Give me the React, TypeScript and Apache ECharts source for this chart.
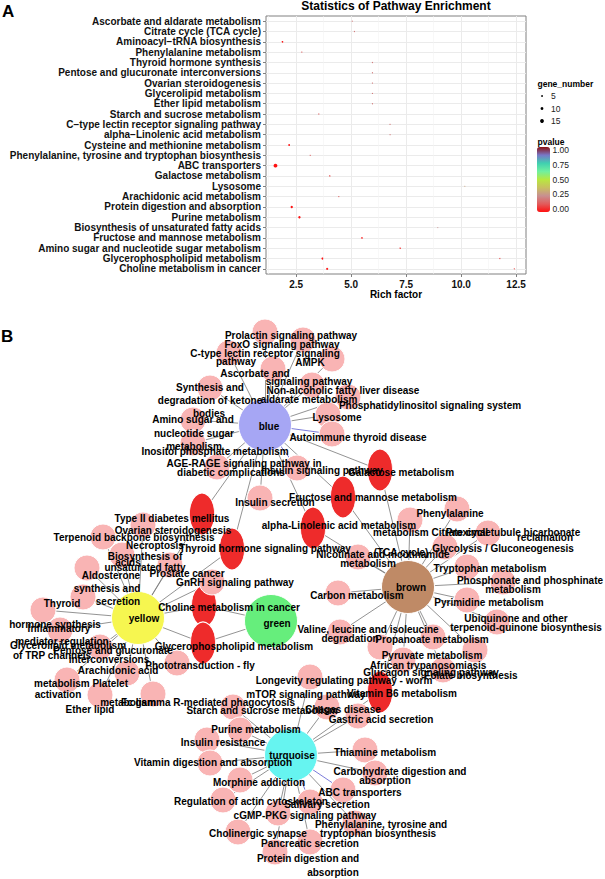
import React, { useEffect, useRef } from 'react';
import * as echarts from 'echarts';

// ---------------- Panel A data ----------------
const pathways = [
  'Ascorbate and aldarate metabolism',
  'Citrate cycle (TCA cycle)',
  'Aminoacyl\u2212tRNA biosynthesis',
  'Phenylalanine metabolism',
  'Thyroid hormone synthesis',
  'Pentose and glucuronate interconversions',
  'Ovarian steroidogenesis',
  'Glycerolipid metabolism',
  'Ether lipid metabolism',
  'Starch and sucrose metabolism',
  'C\u2212type lectin receptor signaling pathway',
  'alpha\u2212Linolenic acid metabolism',
  'Cysteine and methionine metabolism',
  'Phenylalanine, tyrosine and tryptophan biosynthesis',
  'ABC transporters',
  'Galactose metabolism',
  'Lysosome',
  'Arachidonic acid metabolism',
  'Protein digestion and absorption',
  'Purine metabolism',
  'Biosynthesis of unsaturated fatty acids',
  'Fructose and mannose metabolism',
  'Amino sugar and nucleotide sugar metabolism',
  'Glycerophospholipid metabolism',
  'Choline metabolism in cancer',
];
const pointPathway = [0, 1, 2, 3, 4, 5, 6, 7, 8, 9, 10, 11, 12, 13, 14, 15, 16, 17, 18, 19, 20, 21, 22, 23, 23, 24, 24];
const richFactor = [5.05, 5.15, 1.88, 2.76, 5.97, 5.97, 5.97, 5.97, 5.97, 3.53, 6.77, 6.77, 2.18, 3.14, 1.56, 4.03, 10.17, 4.44, 2.3, 2.65, 8.94, 5.49, 7.23, 3.7, 11.76, 3.91, 12.42];
const geneNumber = [2, 2, 4, 2, 2, 2, 2, 2, 2, 2, 2, 2, 5, 2, 15, 3, 1, 2, 8, 8, 1, 4, 3, 7, 2, 7, 2];
const pValue = [0.2, 0.2, 0.02, 0.15, 0.2, 0.2, 0.2, 0.2, 0.2, 0.15, 0.2, 0.2, 0.01, 0.15, 0.001, 0.1, 0.3, 0.15, 0.005, 0.005, 0.25, 0.02, 0.05, 0.01, 0.1, 0.01, 0.1];
const richTicks = [2.5, 5, 7.5, 10, 12.5];
const richMinorTicks = [1.25, 3.75, 6.25, 8.75, 11.25];
const geneLegend = [5, 10, 15];
const pvalueTicks = [1.0, 0.75, 0.5, 0.25, 0.0];
const pvalueColors = ['#ff1010', '#e25c5c', '#c89090', '#c8c060', '#b8e840', '#70f0a0', '#40d0b0', '#7878c8', '#8b1010'];

// ---------------- Panel B data (network layout coordinates) ----------------
const hubNames = ['blue', 'yellow', 'green', 'brown', 'turquoise'];
const hubX = [265, 138, 271, 408, 291];
const hubY = [425, 618, 621, 587, 755];
const hubColors = ['#a6a6f4', '#f6f650', '#66ee7c', '#bf8a66', '#66f4f0'];

// pink module members: [x, y, hub index]
const pinkNodes: number[][] = [
  [265, 332, 0], [303, 340, 0], [229, 353, 0], [332, 359, 0], [273, 369, 0], [312, 385, 0], [210, 388, 0], [348, 397, 0],
  [328, 415, 0], [332, 434, 0], [193, 420, 0], [193, 443, 0], [217, 467, 0], [297, 468, 0], [260, 498, 0],
  [143, 525, 1], [103, 537, 1], [122, 555, 1], [170, 565, 1], [87, 568, 1], [83, 597, 1], [212, 582, 1], [43, 610, 1],
  [60, 630, 1], [100, 647, 1], [177, 663, 1], [127, 673, 1], [67, 680, 1], [100, 695, 1], [153, 694, 1],
  [457, 509, 3], [410, 520, 3], [488, 533, 3], [445, 547, 3], [358, 557, 3], [467, 567, 3], [503, 582, 3], [338, 593, 3],
  [467, 600, 3], [497, 622, 3], [340, 632, 3], [433, 637, 3], [380, 647, 3], [475, 650, 3], [403, 660, 3], [443, 670, 3],
  [310, 677, 4], [233, 707, 4], [327, 707, 4], [358, 716, 4], [240, 730, 4], [207, 740, 4], [365, 750, 4], [210, 763, 4],
  [375, 773, 4], [240, 780, 4], [343, 790, 4], [223, 800, 4], [310, 802, 4], [278, 813, 4], [355, 823, 4], [238, 832, 4],
  [310, 842, 4], [275, 852, 4],
];
const blueEdgeNodes = [9, 13, 56, 58];
// shared (red) pathways: [x, y, hub A, hub B]
const redNodes: number[][] = [
  [380, 470, 0, 3], [343, 497, 0, 3], [313, 528, 0, 3], [202, 514, 0, 1], [232, 549, 0, 1],
  [204, 606, 1, 2], [203, 643, 1, 2], [380, 692, 3, 4],
];

// network labels: [text, x, y]
const netLabels: [string, number, number][] = [
  ['Prolactin signaling pathway', 291, 335], ['FoxO signaling pathway', 282, 344],
  ['C-type lectin receptor signaling', 265, 353], ['pathway', 236, 361], ['AMPK', 310, 362],
  ['Ascorbate and', 255, 373], ['signaling pathway', 309, 381], ['Synthesis and', 210, 387],
  ['Non-alcoholic fatty liver disease', 343, 390], ['aldarate metabolism', 309, 399],
  ['degradation of ketone', 210, 400], ['Phosphatidylinositol signaling system', 430, 405],
  ['bodies', 209, 413], ['Lysosome', 337, 417], ['Amino sugar and', 193, 419], ['blue', 269, 426],
  ['nucleotide sugar', 194, 433], ['Autoimmune thyroid disease', 358, 437], ['metabolism', 194, 446],
  ['Inositol phosphate metabolism', 215, 451], ['AGE-RAGE signaling pathway in', 244, 463],
  ['Insulin signaling pathway', 322, 470], ['Galactose metabolism', 401, 472], ['diabetic complications', 231, 472],
  ['Fructose and mannose metabolism', 373, 497], ['Insulin secretion', 275, 502], ['Phenylalanine', 450, 513],
  ['Type II diabetes mellitus', 172, 518], ['alpha-Linolenic acid metabolism', 339, 525],
  ['Ovarian steroidogenesis', 173, 530], ['metabolism Citrate cycle', 432, 532],
  ['Proximal tubule bicarbonate', 513, 532], ['reclamation', 545, 537],
  ['Terpenoid backbone biosynthesis', 134, 537], ['Necroptosis', 155, 545],
  ['Glycolysis / Gluconeogenesis', 503, 548], ['Thyroid hormone signaling pathway', 265, 548],
  ['(TCA cycle)', 401, 552], ['Nicotinate and nicotinamide', 383, 554], ['Biosynthesis of', 145, 556],
  ['acids', 128, 562], ['metabolism', 368, 563], ['unsaturated fatty', 145, 567],
  ['Tryptophan metabolism', 490, 568], ['Prostate cancer', 187, 573], ['Aldosterone', 111, 575],
  ['Phosphonate and phosphinate', 530, 580], ['GnRH signaling pathway', 235, 582], ['brown', 411, 587],
  ['synthesis and', 107, 588], ['metabolism', 513, 589], ['Carbon metabolism', 357, 595],
  ['secretion', 118, 601], ['Pyrimidine metabolism', 489, 602], ['Thyroid', 62, 603],
  ['Choline metabolism in cancer', 229, 607], ['yellow', 144, 618], ['Ubiquinone and other', 516, 618],
  ['green', 277, 623], ['hormone synthesis', 55, 624], ['terpenoid-quinone biosynthesis', 526, 627],
  ['Inflammatory', 59, 628], ['Valine, leucine and isoleucine', 368, 629], ['degradation', 350, 638],
  ['Propanoate metabolism', 432, 639], ['mediator regulation', 62, 641],
  ['Glycerolipid metabolism', 68, 645], ['Glycerophospholipid metabolism', 234, 646],
  ['Pentose and glucuronate', 113, 650], ['of TRP channels', 52, 655], ['Pyruvate metabolism', 432, 655],
  ['interconversions', 109, 659], ['Phototransduction - fly', 200, 665], ['African trypanosomiasis', 428, 665],
  ['Arachidonic acid', 118, 670], ['Glucagon signaling pathway', 431, 672], ['Folate biosynthesis', 471, 675],
  ['Longevity regulating pathway - worm', 344, 680], ['metabolism Platelet', 81, 683],
  ['Vitamin B6 metabolism', 402, 693], ['mTOR signaling pathway', 306, 694], ['activation', 58, 694],
  ['metabolism', 128, 702], ['Fc gamma R-mediated phagocytosis', 208, 702], ['Ether lipid', 90, 709],
  ['Chagas disease', 343, 709], ['Starch and sucrose metabolism', 262, 710], ['Gastric acid secretion', 381, 719],
  ['Purine metabolism', 256, 729], ['Insulin resistance', 223, 742], ['Thiamine metabolism', 385, 752],
  ['turquoise', 292, 755], ['Vitamin digestion and absorption', 213, 762], ['Carbohydrate digestion and', 400, 771],
  ['absorption', 385, 780], ['Morphine addiction', 259, 782], ['ABC transporters', 360, 792],
  ['Regulation of actin cytoskeleton', 251, 801], ['Salivary secretion', 327, 804],
  ['cGMP-PKG signaling pathway', 305, 815], ['Phenylalanine, tyrosine and', 381, 824],
  ['tryptophan biosynthesis', 378, 833], ['Cholinergic synapse', 258, 833], ['Pancreatic secretion', 310, 843],
  ['Protein digestion and', 308, 858], ['absorption', 333, 872],
];

const FONT = "'Liberation Sans', Arial, sans-serif";
const geneSize = (g: number) => 0.8 + g * 0.2;

export default function App() {
  const ref = useRef<HTMLDivElement>(null);
  useEffect(() => {
    document.body.style.margin = '0';
    const chart = echarts.init(ref.current!, null, { renderer: 'svg' });

    const scatterData = richFactor.map((r, i) => [r, pathways[pointPathway[i]], geneNumber[i], pValue[i]]);

    const nodes: any[] = [];
    redNodes.forEach((n, i) => nodes.push({
      name: 'r' + i, value: [n[0], n[1]], symbolSize: [25, 42],
      itemStyle: { color: '#ee2b2b', borderColor: '#ffffff', borderWidth: 1 },
    }));
    pinkNodes.forEach((n, i) => nodes.push({
      name: 'p' + i, value: [n[0], n[1]], symbolSize: 26,
      itemStyle: { color: '#f9b4b4', borderColor: '#ffffff', borderWidth: 1 },
    }));
    hubNames.forEach((h, i) => nodes.push({
      name: 'hub-' + h, value: [hubX[i], hubY[i]], symbolSize: 53,
      itemStyle: { color: hubColors[i], borderColor: '#ffffff', borderWidth: 1 },
    }));
    const links: any[] = [];
    pinkNodes.forEach((n, i) => links.push({
      source: 'p' + i, target: 'hub-' + hubNames[n[2]],
      lineStyle: { color: blueEdgeNodes.includes(i) ? '#5a5ad0' : '#777777' },
    }));
    redNodes.forEach((n, i) => {
      links.push({ source: 'r' + i, target: 'hub-' + hubNames[n[2]] });
      links.push({ source: 'r' + i, target: 'hub-' + hubNames[n[3]] });
    });

    const graphic: any[] = [
      { type: 'text', left: 2, top: 3, style: { text: 'A', font: `bold 17px ${FONT}`, fill: '#000' } },
      { type: 'text', left: 1, top: 328, style: { text: 'B', font: `bold 17px ${FONT}`, fill: '#000' } },
      { type: 'text', x: 537.5, y: 84, style: { text: 'gene_number', font: `bold 8.5px ${FONT}`, fill: '#000', verticalAlign: 'middle' } },
      { type: 'text', x: 537.5, y: 142, style: { text: 'pvalue', font: `bold 8.5px ${FONT}`, fill: '#000', verticalAlign: 'middle' } },
    ];
    geneLegend.forEach((g, i) => {
      const cy = 96 + i * 12.5;
      graphic.push({ type: 'circle', shape: { cx: 542, cy, r: geneSize(g) / 2 }, style: { fill: '#000' } });
      graphic.push({ type: 'text', x: 551, y: cy, style: { text: String(g), font: `8.5px ${FONT}`, fill: '#222', verticalAlign: 'middle' } });
    });
    pvalueTicks.forEach((p) => {
      graphic.push({ type: 'text', x: 552.5, y: 209 - p * 59, style: { text: p.toFixed(2), font: `8.5px ${FONT}`, fill: '#222', verticalAlign: 'middle' } });
    });

    chart.setOption({
      animation: false,
      textStyle: { fontFamily: FONT },
      title: {
        text: 'Statistics of Pathway Enrichment', left: 396, top: 0, textAlign: 'center', padding: 0,
        textStyle: { fontSize: 12, fontWeight: 'bold', color: '#000', fontFamily: FONT },
      },
      grid: [
        { left: 266, top: 16, width: 260, height: 258, show: true, borderColor: '#808080', borderWidth: 1, backgroundColor: '#fff' },
        { left: 0, top: 0, width: 605, height: 879, show: false },
      ],
      xAxis: [
        {
          type: 'value', gridIndex: 0, min: 1.13, max: 12.95,
          axisLine: { show: false },
          axisTick: { show: true, length: 3, customValues: richTicks, lineStyle: { color: '#808080' } },
          axisLabel: { customValues: richTicks, formatter: (v: number) => v.toFixed(1), fontSize: 10, fontWeight: 'bold', color: '#111', margin: 5 },
          splitLine: { show: true, lineStyle: { color: '#ebebeb', width: 1 } },
          name: 'Rich factor', nameLocation: 'middle', nameGap: 15,
          nameTextStyle: { fontSize: 10, fontWeight: 'bold', color: '#000' },
        },
        { type: 'value', gridIndex: 1, min: 0, max: 605, show: false },
      ],
      yAxis: [
        {
          type: 'category', gridIndex: 0, data: pathways, inverse: true,
          axisLine: { show: false },
          axisTick: { show: true, length: 3, alignWithLabel: true, lineStyle: { color: '#808080' } },
          axisLabel: { fontSize: 10, fontWeight: 'bold', color: '#111', margin: 5, interval: 0 },
          splitLine: { show: true, alignWithLabel: true, lineStyle: { color: '#ebebeb', width: 1 } },
        },
        { type: 'value', gridIndex: 1, min: 0, max: 879, inverse: true, show: false },
      ],
      visualMap: {
        type: 'continuous', seriesIndex: 0, dimension: 3, min: 0, max: 1,
        inRange: { color: pvalueColors }, orient: 'vertical', left: 537, top: 147,
        itemWidth: 13, itemHeight: 65, text: ['', ''], calculable: false, padding: 0, hoverLink: false,
      },
      graphic,
      series: [
        {
          type: 'scatter', xAxisIndex: 0, yAxisIndex: 0, data: scatterData,
          symbolSize: (v: number[]) => geneSize(v[2]), silent: true,
          itemStyle: { opacity: 1 },
          markLine: {
            silent: true, symbol: 'none', label: { show: false },
            lineStyle: { color: '#f3f3f3', width: 0.6, type: 'solid' },
            data: richMinorTicks.map((v) => ({ xAxis: v })),
          },
        },
        {
          type: 'graph', coordinateSystem: 'cartesian2d', xAxisIndex: 1, yAxisIndex: 1, layout: 'none',
          data: nodes, links, z: 2, silent: true,
          label: { show: false },
          itemStyle: { opacity: 1 },
          lineStyle: { color: '#777777', width: 0.8, opacity: 1 },
          emphasis: { disabled: true },
        },
        {
          type: 'scatter', xAxisIndex: 1, yAxisIndex: 1, symbolSize: 0, z: 3, silent: true,
          itemStyle: { opacity: 1 },
          data: netLabels.map(([t, x, y]) => ({ name: t, value: [x, y] })),
          label: {
            show: true, position: 'inside', formatter: '{b}', fontSize: 10, fontWeight: 'bold',
            color: '#000', fontFamily: FONT, opacity: 1,
          },
        },
      ],
    });
    return () => chart.dispose();
  }, []);
  return <div ref={ref} style={{ width: 605, height: 879 }} />;
}
